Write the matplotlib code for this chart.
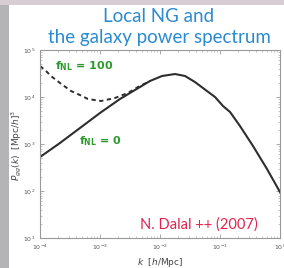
import matplotlib
matplotlib.use("Agg")
import matplotlib.pyplot as plt
from matplotlib.patches import Rectangle

# ----- Daten -----
k_fnl0 = [1e-4, 2.15e-4, 4.64e-4, 1e-3, 2.15e-3, 3.83e-3, 6.81e-3, 0.0108, 0.0178,
          0.0261, 0.0383, 0.0607, 0.0826, 0.112, 0.147, 0.215, 0.355, 0.607, 1.0]
p_fnl0 = [528, 1050, 2190, 4570, 9060, 14100, 21900, 28000, 30800,
          28000, 20800, 13400, 10000, 6440, 4800, 2420, 906, 294, 95]

k_fnl100 = [1e-4, 1.26e-4, 1.52e-4, 2.15e-4, 3.29e-4, 4.64e-4, 6.31e-4, 1.04e-3,
            1.78e-3, 2.93e-3, 4.3e-3, 6.81e-3]
p_fnl100 = [45700, 35700, 28000, 19900, 13400, 11000, 9060, 8220,
            9530, 12200, 16300, 21900]

xticks = [1e-4, 1e-3, 1e-2, 1e-1, 1e0]
yticks = [1e1, 1e2, 1e3, 1e4, 1e5]

W, H = 284, 268
fig = plt.figure(figsize=(W / 100, H / 100), dpi=100)
fig.patch.set_facecolor("white")

# Folienrand links/oben
fig.patches.append(Rectangle((0, 0), 9 / W, 1, transform=fig.transFigure,
                             facecolor="#b4b4b6", edgecolor="none", zorder=0))
fig.patches.append(Rectangle((0, 1 - 5 / H), 1, 5 / H, transform=fig.transFigure,
                             facecolor="#d9cdd4", edgecolor="none", zorder=0))

ax = fig.add_axes([40 / W, 1 - 238 / H, 240 / W, 188 / H])
ax.plot(k_fnl100, p_fnl100, color="#2e2e2e", lw=1.4, ls=(0, (2.2, 1.8)))
ax.plot(k_fnl0, p_fnl0, color="#2e2e2e", lw=1.5)

ax.set_xscale("log")
ax.set_yscale("log")
ax.set_xlim(1e-4, 1)
ax.set_ylim(10, 1e5)
ax.set_xticks(xticks)
ax.set_yticks(yticks)
ax.tick_params(which="both", direction="in", top=True, right=True,
               labelsize=4.5, labelcolor="#555555", color="#999999")
ax.tick_params(which="major", length=3, width=0.6)
ax.tick_params(which="minor", length=1.5, width=0.4)
for s in ax.spines.values():
    s.set_color("#999999")
    s.set_linewidth(0.8)

ax.set_xlabel(r"$k$  [$h$/Mpc]", fontsize=6.5, color="#444444", labelpad=3)
fig.text(17 / W, 1 - 145 / H, r"$P_{gg}(k)$  [Mpc/$h$]$^3$", rotation=90,
         ha="center", va="center", fontsize=6.5, color="#444444")

fig.text(159 / W, 1 - 16 / H, "Local NG and", ha="center", va="center",
         fontsize=13.5, color="#2a8bd0", family="Lato")
fig.text(159 / W, 1 - 37 / H, "the galaxy power spectrum", ha="center", va="center",
         fontsize=13.5, color="#2a8bd0", family="Lato")

fig.text(55 / W, 1 - 66 / H, r"$\mathbf{f_{NL}}$ = 100",
         fontsize=8, color="#2e9a2e", fontweight="bold", va="center")
fig.text(79 / W, 1 - 141 / H, r"$\mathbf{f_{NL}}$ = 0",
         fontsize=8, color="#2e9a2e", fontweight="bold", va="center")
fig.text(140 / W, 1 - 225 / H, "N. Dalal ++ (2007)",
         fontsize=10.5, color="#e3244f", va="center", family="Lato")

fig.savefig("out.png", dpi=100)
